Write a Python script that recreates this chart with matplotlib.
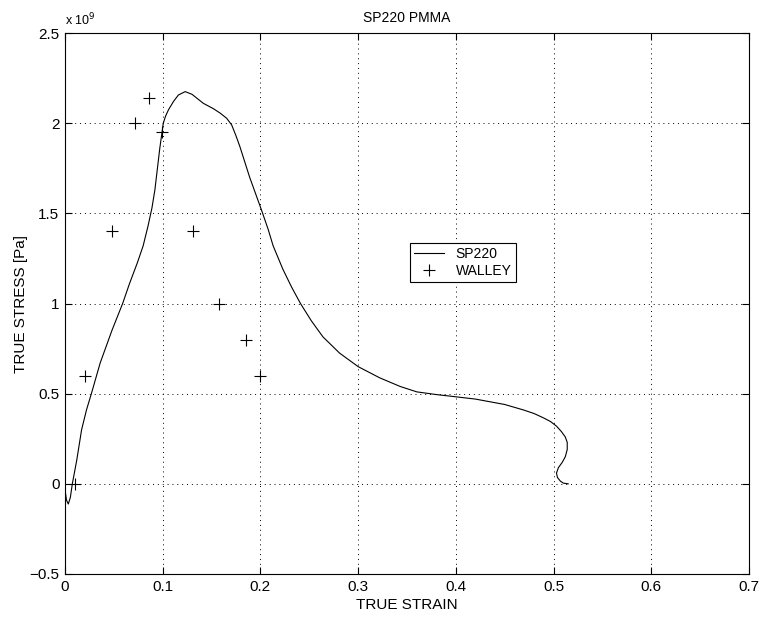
import matplotlib
matplotlib.use("Agg")
import matplotlib.pyplot as plt

plt.rcParams['font.family'] = ['Liberation Sans', 'DejaVu Sans']

# SP220 simulation curve (stress in units of 1e9 Pa)
sp220_strain = [0.0, 0.0015, 0.0034, 0.0055, 0.0075, 0.012, 0.017, 0.022, 0.027, 0.036,
                0.048, 0.059, 0.066, 0.074, 0.080, 0.085, 0.089, 0.092, 0.097,
                0.1006, 0.103, 0.106, 0.111, 0.116, 0.123, 0.130, 0.1416, 0.152,
                0.159, 0.1655, 0.1706, 0.175, 0.179, 0.189, 0.201, 0.208, 0.213, 0.223,
                0.232, 0.241, 0.252, 0.264, 0.281, 0.300, 0.322, 0.343, 0.360, 0.380,
                0.401, 0.420, 0.435, 0.450, 0.469, 0.480, 0.490, 0.497, 0.503, 0.508,
                0.512, 0.514, 0.514, 0.512, 0.509, 0.505, 0.503, 0.504, 0.507, 0.510,
                0.515]
sp220_stress = [-0.03, -0.09, -0.112, -0.075, 0.0, 0.13, 0.30, 0.41, 0.50, 0.67,
                0.85, 1.0, 1.11, 1.225, 1.32, 1.43, 1.53, 1.63, 1.86,
                2.0, 2.04, 2.075, 2.12, 2.156, 2.175, 2.16, 2.11, 2.08,
                2.055, 2.027, 1.99, 1.93, 1.87, 1.70, 1.52, 1.41, 1.32, 1.19,
                1.09, 1.0, 0.905, 0.815, 0.725, 0.65, 0.588, 0.54, 0.51, 0.495,
                0.482, 0.47, 0.455, 0.44, 0.41, 0.39, 0.365, 0.345, 0.32, 0.29,
                0.26, 0.23, 0.19, 0.15, 0.12, 0.09, 0.06, 0.035, 0.015, 0.004,
                0.0]

# Walley experimental points
walley_strain = [0.010, 0.020, 0.048, 0.072, 0.086, 0.099, 0.131, 0.158, 0.185, 0.200]
walley_stress = [0.0, 0.6, 1.4, 2.0, 2.14, 1.95, 1.4, 1.0, 0.8, 0.6]

fig = plt.figure(figsize=(7.61, 6.17), dpi=100)
ax = fig.add_axes([0.0854, 0.0697, 0.8988, 0.8768])

ax.plot(sp220_strain, sp220_stress, color='black', linewidth=0.8, label='SP220')
ax.plot(walley_strain, walley_stress, linestyle='none', marker='+', markersize=9,
        markeredgewidth=0.8, color='black', label='WALLEY')

ax.set_xlim(0, 0.7)
ax.set_ylim(-0.5, 2.5)
ax.set_xticks([0, 0.1, 0.2, 0.3, 0.4, 0.5, 0.6, 0.7])
ax.set_xticklabels(['0', '0.1', '0.2', '0.3', '0.4', '0.5', '0.6', '0.7'])
ax.set_yticks([-0.5, 0, 0.5, 1, 1.5, 2, 2.5])
ax.set_yticklabels(['\u22120.5', '0', '0.5', '1', '1.5', '2', '2.5'])
ax.grid(True, color='black', linestyle=(0, (1, 4)), linewidth=0.7)
ax.tick_params(direction='in', top=True, right=True, length=5, labelsize=11, pad=4)
for sp in ax.spines.values():
    sp.set_linewidth(0.8)

ax.set_title('SP220 PMMA', fontsize=10, pad=8)
ax.set_xlabel('TRUE STRAIN', fontsize=11, labelpad=3)
ax.set_ylabel('TRUE STRESS [Pa]', fontsize=11, labelpad=1)
ax.text(0.0, 1.008, r'x 10$^{9}$', transform=ax.transAxes, fontsize=9, va='bottom', ha='left')

leg = ax.legend(loc='upper left', bbox_to_anchor=(0.504, 0.612), fontsize=10,
                fancybox=False, framealpha=1, edgecolor='black', borderaxespad=0,
                handlelength=2.2, borderpad=0.3, labelspacing=0.2)
leg.get_frame().set_linewidth(0.8)

fig.savefig('out.png', dpi=100)
